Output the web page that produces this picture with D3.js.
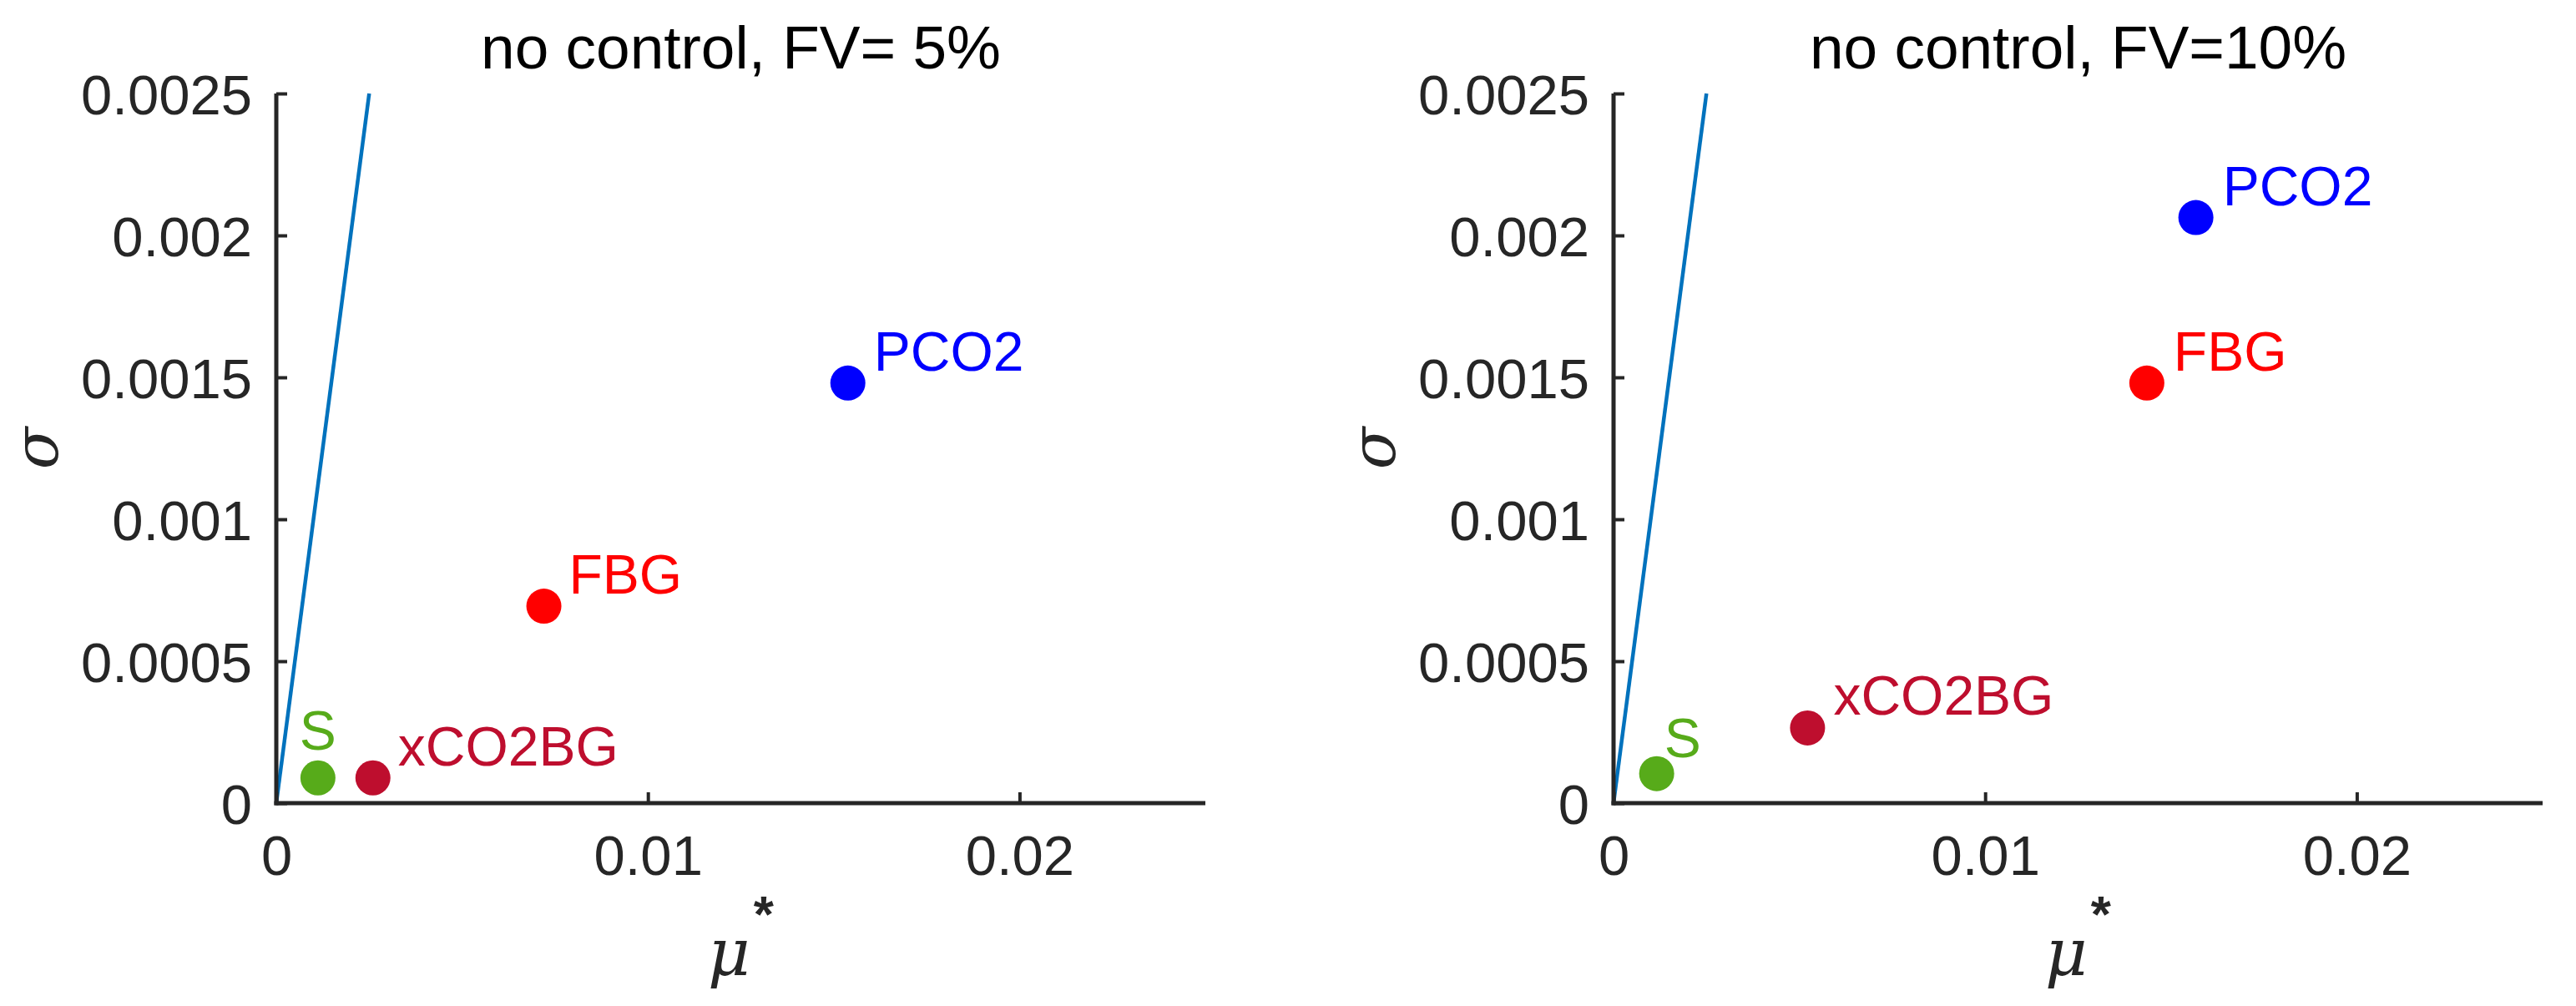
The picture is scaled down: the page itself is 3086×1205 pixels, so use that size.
<!DOCTYPE html>
<html>
<head>
<meta charset="utf-8">
<script src="https://cdn.jsdelivr.net/npm/d3@7"></script>
<style>
  html, body { margin: 0; padding: 0; background: #ffffff; }
  svg { display: block; }
</style>
</head>
<body>
<svg id="chart" width="3086" height="1205"></svg>
<script>
// ---------- data ----------
const categories = ["PCO2", "FBG", "xCO2BG", "S"];
const panelTitles = ["no control, FV= 5%", "no control, FV=10%"];
const muStarFV5 = [0.01538, 0.0072, 0.0026, 0.00112];
const sigmaFV5 = [0.00148, 0.000694, 0.000089, 0.000089];
const muStarFV10 = [0.01567, 0.01435, 0.00522, 0.00116];
const sigmaFV10 = [0.002063, 0.00148, 0.000265, 0.000104];
const refLineX = [0, 0.0025];
const refLineY = [0, 0.0025];
const xDomain = [0, 0.025];
const yDomain = [0, 0.0025];
const xTickValues = [0, 0.01, 0.02];
const xTickLabels = ["0", "0.01", "0.02"];
const yTickValues = [0, 0.0005, 0.001, 0.0015, 0.002, 0.0025];
const yTickLabels = ["0", "0.0005", "0.001", "0.0015", "0.002", "0.0025"];

// ---------- styles ----------
const catColors = ["#0000FF", "#FF0000", "#BE0E2E", "#57AB1A"];
const axisColor = "#262626";
const lineColor = "#0072BD";
const sansFont = "'Liberation Sans', Arial, Helvetica, sans-serif";
const serifFont = "'DejaVu Serif', 'Liberation Serif', serif";
// label nudges in px for each panel: [anchor, dx, dy]
const labelNudgeFV5 = [["start", 31, -15], ["start", 30, -15], ["start", 30, -15], ["middle", 0, -34]];
const labelNudgeFV10 = [["start", 32, -15], ["start", 32, -15], ["start", 31, -16], ["start", 9, -20]];

const panels = [
  { title: panelTitles[0], mu: muStarFV5, sigma: sigmaFV5, nudge: labelNudgeFV5, left: 331, right: 1444 },
  { title: panelTitles[1], mu: muStarFV10, sigma: sigmaFV10, nudge: labelNudgeFV10, left: 1933, right: 3046 }
];
const plotTop = 112, plotBottom = 962;
const svg = d3.select("#chart");

panels.forEach((p, pi) => {
  const x = d3.scaleLinear().domain(xDomain).range([p.left, p.right]);
  const y = d3.scaleLinear().domain(yDomain).range([plotBottom, plotTop]);
  const g = svg.append("g");

  // reference line
  g.append("path")
    .datum(refLineX.map((v, i) => [v, refLineY[i]]))
    .attr("d", d3.line().x(d => x(d[0])).y(d => y(d[1])))
    .attr("fill", "none").attr("stroke", lineColor).attr("stroke-width", 4.5);

  // axes
  const xAxis = d3.axisBottom(x).tickValues(xTickValues)
    .tickFormat((d, i) => xTickLabels[i]).tickSizeInner(-13).tickSizeOuter(0).tickPadding(38);
  const yAxis = d3.axisLeft(y).tickValues(yTickValues)
    .tickFormat((d, i) => yTickLabels[i]).tickSizeInner(-13).tickSizeOuter(0).tickPadding(29);

  const gx = g.append("g").attr("transform", `translate(0,${plotBottom})`).call(xAxis);
  const gy = g.append("g").attr("transform", `translate(${p.left},0)`).call(yAxis);
  [gx, gy].forEach(a => {
    a.select(".domain").attr("stroke", axisColor).attr("stroke-width", 5);
    a.selectAll(".tick line").attr("stroke", axisColor).attr("stroke-width", 4);
    a.selectAll(".tick text").attr("fill", axisColor)
      .style("font-family", sansFont).style("font-size", "67px");
  });
  gx.selectAll(".tick text").attr("dy", "0.71em");
  gy.selectAll(".tick text").attr("dy", "0.36em");
  gx.select(".domain").attr("d", `M${p.left - 2.5},0H${p.right}`);
  gy.select(".domain").attr("d", `M0,${plotBottom + 2.5}V${plotTop}`);

  // points
  g.selectAll("circle.pt").data(categories).enter().append("circle")
    .attr("class", "pt")
    .attr("cx", (d, i) => x(p.mu[i]))
    .attr("cy", (d, i) => y(p.sigma[i]))
    .attr("r", 21)
    .attr("fill", (d, i) => catColors[i]);

  // labels
  g.selectAll("text.lbl").data(categories).enter().append("text")
    .attr("class", "lbl")
    .attr("x", (d, i) => x(p.mu[i]) + p.nudge[i][1])
    .attr("y", (d, i) => y(p.sigma[i]) + p.nudge[i][2])
    .attr("text-anchor", (d, i) => p.nudge[i][0])
    .attr("fill", (d, i) => catColors[i])
    .style("font-family", sansFont).style("font-size", "66px")
    .text(d => d);

  // title
  g.append("text")
    .attr("x", (p.left + p.right) / 2).attr("y", 82)
    .attr("text-anchor", "middle").attr("fill", "#000")
    .style("font-family", sansFont).style("font-size", "73px")
    .text(p.title);

  // x label mu*
  const xl = g.append("text")
    .attr("x", (p.left + p.right) / 2).attr("y", 1168)
    .attr("text-anchor", "middle").attr("fill", axisColor);
  xl.append("tspan").style("font-family", serifFont).style("font-style", "italic")
    .style("font-size", "78px").text("μ");
  xl.append("tspan").attr("dy", -52).attr("dx", 4).style("font-family", sansFont)
    .style("font-size", "62px").style("font-weight", "bold").text("*");

  // y label sigma
  g.append("text")
    .attr("transform", `translate(${p.left - 262},${(plotTop + plotBottom) / 2}) rotate(-90)`)
    .attr("text-anchor", "middle").attr("fill", axisColor)
    .style("font-family", serifFont).style("font-style", "italic").style("font-size", "74px")
    .text("σ");
});
</script>
</body>
</html>
